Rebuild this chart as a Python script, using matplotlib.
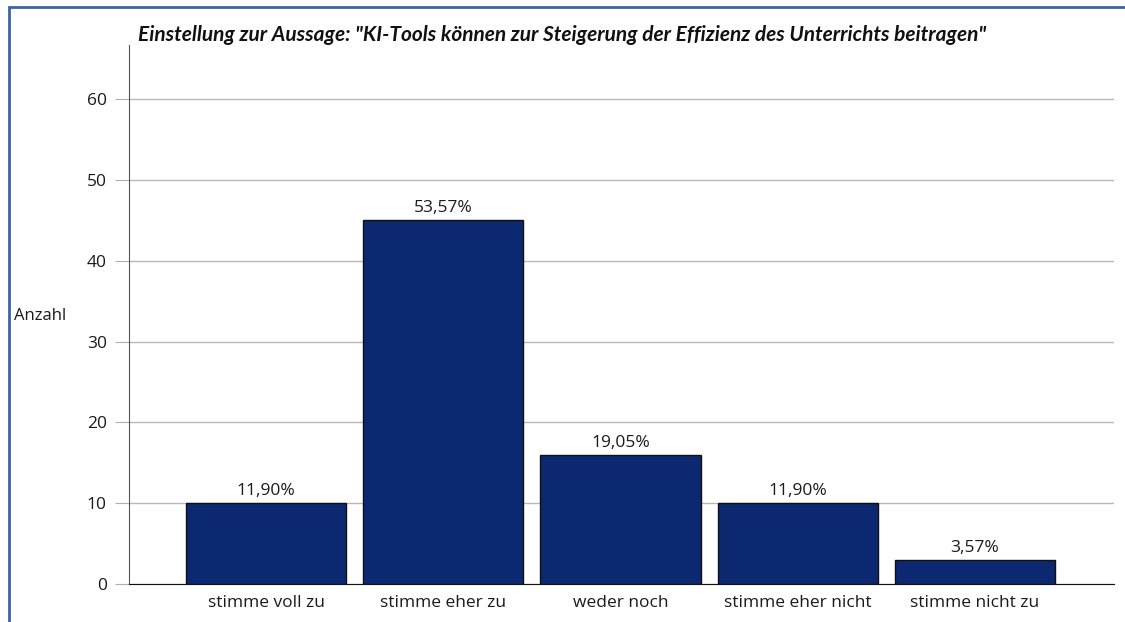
import matplotlib.pyplot as plt
from matplotlib.patches import Rectangle

categories = ["stimme voll zu", "stimme eher zu", "weder noch", "stimme eher nicht", "stimme nicht zu"]
counts = [10, 45, 16, 10, 3]
percent_labels = ["11,90%", "53,57%", "19,05%", "11,90%", "3,57%"]
y_ticks = [0, 10, 20, 30, 40, 50, 60]

title = 'Einstellung zur Aussage: "KI-Tools können zur Steigerung der Effizienz des Unterrichts beitragen"'

plt.rcParams["font.family"] = ["Open Sans", "DejaVu Sans"]

fig = plt.figure(figsize=(11.25, 6.22), dpi=100)
ax = fig.add_axes([0.1147, 0.0611, 0.8755, 0.8666])

x = list(range(len(categories)))
bars = ax.bar(x, counts, width=0.904, color="#0b2870", edgecolor="#111111", linewidth=1, zorder=3)

for b, lab in zip(bars, percent_labels):
    ax.annotate(lab, (b.get_x() + b.get_width() / 2, b.get_height()),
                xytext=(0, 3), textcoords="offset points",
                ha="center", va="bottom", fontsize=12.5, color="#1a1a1a")

ax.set_xlim(-0.773, 4.784)
ax.set_ylim(0, 66.7)
ax.set_yticks(y_ticks)
ax.set_xticks(x)
ax.set_xticklabels(categories, fontsize=12.5, color="#1a1a1a")
ax.tick_params(axis="x", length=0, pad=8)
ax.tick_params(axis="y", length=10, color="#b0b0b0", labelsize=12.5, labelcolor="#1a1a1a", pad=6)
ax.yaxis.grid(True, color="#b8b8b8", linewidth=1, zorder=0)
ax.set_axisbelow(True)

for s in ["top", "right"]:
    ax.spines[s].set_visible(False)
ax.spines["left"].set_color("#555555")
ax.spines["bottom"].set_color("#111111")

fig.text(14 / 1125, 1 - 316 / 622, "Anzahl", fontsize=12, color="#1a1a1a", ha="left", va="center")
fig.text(0.5, 1 - 35 / 622, title, fontsize=15, fontweight="bold", fontstyle="italic",
         family=["Lato", "DejaVu Sans"], ha="center", va="center", color="#111111")

# outer frame (only left and top visible in the crop)
fig.patches.append(Rectangle((9 / 1125, -0.1), 1.2, 1 - 7 / 622 + 0.1, transform=fig.transFigure,
                             fill=False, edgecolor="#3d62a8", linewidth=2))

fig.savefig("out.png", dpi=100)
